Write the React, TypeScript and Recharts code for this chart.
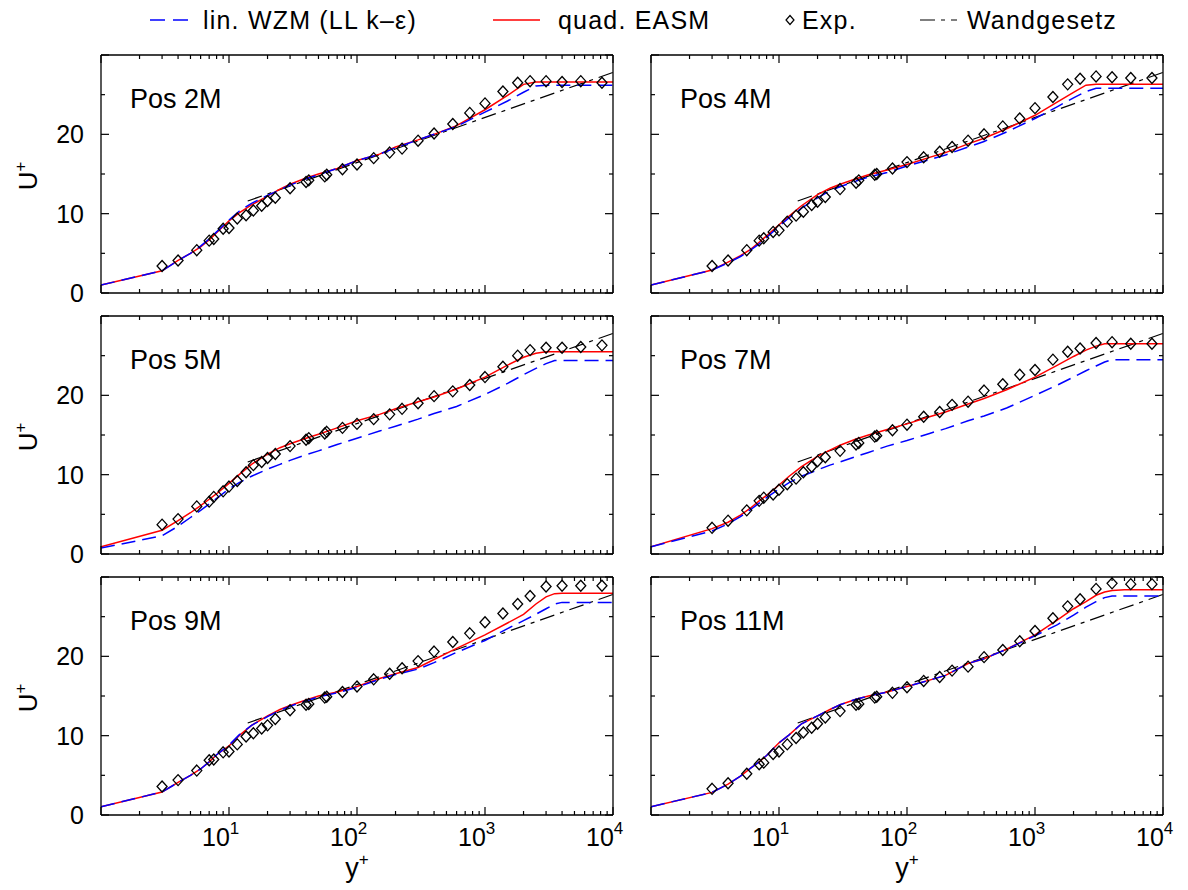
import React from 'react'
import { LineChart, Line, XAxis, YAxis } from 'recharts'

const FONT = '"Liberation Sans", Arial, Helvetica, sans-serif'

// y+ stations of the computed profiles
const MODEL_YP = [1, 3, 4, 5, 6, 7, 8, 10, 12, 15, 20, 25, 30, 40, 50, 70, 100, 150, 200, 300, 400, 600, 1000, 1500, 2000, 2500, 3000, 3500, 4000, 5000, 10000]
// y+ stations of the measurements
const EXP_YP = [3, 4, 5.6, 7, 7.6, 9, 10, 11.6, 13.6, 15.5, 18, 20, 23, 30, 40, 42, 56, 58, 77, 100, 135, 180, 225, 300, 400, 560, 760, 1000, 1380, 1800, 2250, 3000, 4000, 5600, 8200]
// log law
const WALL_YP = [14, 10000]
const WALL_U = [11.6, 27.8]

const POS2M_LIN = [1.0, 2.8, 4.1, 5.0, 5.9, 6.8, 7.7, 9.2, 10.3, 11.3, 12.3, 13.0, 13.6, 14.4, 14.9, 15.7, 16.7, 17.5, 18.3, 19.3, 20.0, 21.0, 22.8, 24.2, 25.3, 26.1, 26.2, 26.2, 26.2, 26.2, 26.2]
const POS2M_QUAD = [1.0, 2.8, 4.1, 5.0, 5.8, 6.7, 7.6, 9.1, 10.1, 11.1, 12.2, 13.1, 13.7, 14.5, 15.0, 15.7, 16.7, 17.5, 18.4, 19.3, 20.0, 21.1, 23.1, 24.9, 26.3, 26.6, 26.6, 26.6, 26.6, 26.6, 26.6]
const POS2M_EXP = [3.4, 4.1, 5.4, 6.6, 6.8, 8.1, 8.2, 9.4, 9.8, 10.4, 11.0, 11.6, 12.0, 13.2, 14.0, 14.2, 14.7, 14.9, 15.6, 16.2, 17.0, 17.7, 18.2, 19.2, 20.1, 21.3, 22.7, 23.9, 25.4, 26.5, 26.7, 26.7, 26.6, 26.7, 26.5]

const POS4M_LIN = [1.0, 2.9, 3.8, 4.6, 5.4, 6.2, 7.0, 8.4, 9.5, 10.7, 12.0, 12.9, 13.4, 14.1, 14.6, 15.2, 16.0, 16.8, 17.4, 18.4, 19.1, 20.3, 22.0, 23.5, 24.6, 25.4, 25.8, 25.8, 25.8, 25.8, 25.8]
const POS4M_QUAD = [1.0, 2.9, 3.9, 4.7, 5.5, 6.4, 7.2, 8.6, 9.7, 11.0, 12.4, 13.2, 13.7, 14.4, 14.9, 15.5, 16.2, 17.1, 17.7, 18.8, 19.5, 20.7, 22.4, 24.1, 25.3, 26.2, 26.3, 26.3, 26.3, 26.3, 26.3]
const POS4M_EXP = [3.4, 4.1, 5.4, 6.6, 6.9, 7.7, 7.9, 9.0, 9.75, 10.25, 11.1, 11.5, 12.1, 13.1, 13.9, 14.2, 14.9, 15.0, 15.7, 16.5, 17.1, 17.8, 18.4, 19.2, 20.0, 21.0, 22.0, 23.3, 24.7, 26.3, 27.0, 27.3, 27.2, 27.1, 27.1]

const POS5M_LIN = [0.75, 2.3, 3.5, 4.6, 5.5, 6.3, 7.0, 8.2, 9.0, 9.8, 10.7, 11.3, 11.8, 12.5, 13.0, 13.8, 14.6, 15.5, 16.1, 17.0, 17.7, 18.6, 20.1, 21.5, 22.6, 23.4, 24.0, 24.4, 24.4, 24.4, 24.4]
const POS5M_QUAD = [0.9, 3.0, 4.2, 5.2, 6.1, 6.9, 7.6, 8.9, 10.0, 11.3, 12.6, 13.4, 13.9, 14.6, 15.1, 15.9, 16.8, 17.6, 18.3, 19.2, 19.8, 20.8, 22.3, 23.8, 24.8, 25.3, 25.5, 25.5, 25.5, 25.5, 25.5]
const POS5M_EXP = [3.7, 4.4, 6.0, 6.6, 7.2, 7.9, 8.5, 9.2, 10.3, 11.2, 11.6, 12.1, 12.6, 13.6, 14.4, 14.6, 15.2, 15.4, 15.9, 16.4, 17.0, 17.6, 18.3, 19.0, 19.9, 20.5, 21.3, 22.3, 23.6, 25.0, 25.7, 26.0, 26.0, 26.1, 26.3]

const POS7M_LIN = [0.9, 2.9, 3.8, 4.7, 5.6, 6.4, 7.1, 8.2, 9.0, 9.8, 10.6, 11.2, 11.6, 12.3, 12.8, 13.6, 14.3, 15.2, 15.8, 16.8, 17.4, 18.4, 20.0, 21.3, 22.3, 23.1, 23.7, 24.2, 24.5, 24.5, 24.5]
const POS7M_QUAD = [0.9, 3.2, 4.0, 4.9, 5.8, 6.7, 7.4, 8.7, 9.8, 11.0, 12.3, 13.1, 13.7, 14.5, 15.0, 15.7, 16.4, 17.3, 17.9, 18.9, 19.6, 20.7, 22.3, 23.8, 24.9, 25.7, 26.2, 26.5, 26.5, 26.5, 26.5]
const POS7M_EXP = [3.3, 4.2, 5.5, 6.7, 7.1, 7.5, 8.1, 8.8, 9.5, 10.3, 11.0, 11.7, 12.2, 13.0, 13.8, 14.0, 14.8, 14.9, 15.6, 16.3, 17.3, 17.9, 18.8, 19.2, 20.6, 21.4, 22.6, 23.2, 24.5, 25.5, 25.9, 26.6, 26.7, 26.5, 26.5]

const POS9M_LIN = [1.05, 2.9, 4.1, 5.0, 5.8, 6.7, 7.6, 8.8, 10.1, 11.3, 12.4, 13.2, 13.7, 14.4, 14.9, 15.4, 16.1, 17.1, 17.7, 18.4, 19.2, 20.5, 22.0, 23.5, 24.5, 25.3, 26.0, 26.6, 26.8, 26.8, 26.8]
const POS9M_QUAD = [1.05, 2.9, 4.1, 5.0, 5.8, 6.7, 7.6, 8.7, 10.0, 11.3, 12.5, 13.3, 13.8, 14.5, 15.0, 15.5, 16.2, 17.2, 17.8, 18.6, 19.6, 21.0, 22.7, 24.2, 25.3, 26.6, 27.5, 27.9, 27.95, 27.95, 27.95]
const POS9M_EXP = [3.6, 4.4, 5.6, 6.9, 7.0, 7.9, 8.0, 8.9, 9.9, 10.3, 10.9, 11.3, 12.1, 13.2, 13.9, 14.0, 14.8, 14.9, 15.5, 16.2, 17.1, 17.8, 18.5, 19.4, 20.6, 21.8, 22.9, 24.3, 25.4, 26.6, 27.6, 28.8, 28.9, 28.9, 28.9]

const POS11M_LIN = [1.05, 2.85, 3.9, 4.9, 5.9, 6.7, 7.5, 9.1, 10.1, 11.5, 12.5, 13.3, 13.9, 14.6, 15.0, 15.5, 16.2, 17.0, 17.6, 19.1, 19.7, 20.9, 22.6, 24.0, 25.2, 26.2, 26.9, 27.4, 27.6, 27.6, 27.6]
const POS11M_QUAD = [1.05, 2.85, 3.9, 4.9, 5.9, 6.7, 7.5, 9.1, 10.1, 11.5, 12.5, 13.3, 13.9, 14.6, 15.0, 15.5, 16.2, 17.0, 17.6, 19.1, 19.7, 20.9, 22.7, 24.6, 26.0, 26.9, 27.7, 28.1, 28.3, 28.4, 28.4]
const POS11M_EXP = [3.3, 4.0, 5.2, 6.4, 6.6, 7.7, 8.0, 8.9, 9.7, 10.4, 11.0, 11.5, 12.3, 13.1, 13.9, 14.0, 14.8, 14.9, 15.4, 16.1, 16.9, 17.4, 18.2, 18.7, 19.9, 20.8, 21.9, 23.2, 24.8, 26.3, 27.2, 28.5, 29.2, 29.1, 29.1]

const PANEL_NAMES = ['Pos 2M', 'Pos 4M', 'Pos 5M', 'Pos 7M', 'Pos 9M', 'Pos 11M']
const LEGEND_LABELS = ['lin. WZM (LL k\u2013\u03b5)', 'quad. EASM', 'Exp.', 'Wandgesetz']

const X_MAJOR = [1, 10, 100, 1000, 10000]
const X_TICKS = X_MAJOR.flatMap((d, i) => (i < X_MAJOR.length - 1 ? [1, 2, 3, 4, 5, 6, 7, 8, 9].map((m) => d * m) : [d]))
const Y_TICKS = [0, 5, 10, 15, 20, 25, 30]

const toPoints = (xs: number[], us: number[]) => xs.map((yp, i) => ({ yp, u: us[i] }))

const panels = [
  { lin: POS2M_LIN, quad: POS2M_QUAD, exp: POS2M_EXP },
  { lin: POS4M_LIN, quad: POS4M_QUAD, exp: POS4M_EXP },
  { lin: POS5M_LIN, quad: POS5M_QUAD, exp: POS5M_EXP },
  { lin: POS7M_LIN, quad: POS7M_QUAD, exp: POS7M_EXP },
  { lin: POS9M_LIN, quad: POS9M_QUAD, exp: POS9M_EXP },
  { lin: POS11M_LIN, quad: POS11M_QUAD, exp: POS11M_EXP },
].map((p, i) => ({
  name: PANEL_NAMES[i],
  lin: toPoints(MODEL_YP, p.lin),
  quad: toPoints(MODEL_YP, p.quad),
  exp: toPoints(EXP_YP, p.exp),
}))
const wall = toPoints(WALL_YP, WALL_U)

// layout
const PLOT_W = 512
const PLOT_H = 238
const ROW_TOP = [55, 316, 577]
const COLS = [
  { left: 0, width: 630, ml: 100, mr: 16 },
  { left: 630, width: 558, ml: 20, mr: 24 },
]

const XTick = (props: any) => {
  const { x, y, payload, side, showLabel } = props
  const v = payload.value
  const major = X_MAJOR.includes(v)
  const len = major ? 8 : 4
  const dir = side === 'bottom' ? -1 : 1
  const power = Math.round(Math.log10(v))
  return (
    <g>
      <line x1={x} x2={x} y1={y} y2={y + dir * len} stroke="#000" strokeWidth={1.2} />
      {showLabel && major && power > 0 && (
        <text x={x - 27} y={y + 31} fontSize={25} fontFamily={FONT} fill="#000">
          10<tspan dy={-12} fontSize={17}>{power}</tspan>
        </text>
      )}
    </g>
  )
}

const YTick = (props: any) => {
  const { x, y, payload, side, showLabel } = props
  const v = payload.value
  const major = v % 10 === 0
  const len = major ? 8 : 4
  const dir = side === 'left' ? 1 : -1
  return (
    <g>
      <line x1={x} x2={x + dir * len} y1={y} y2={y} stroke="#000" strokeWidth={1.2} />
      {showLabel && major && v < 30 && (
        <text x={x - 17} y={y + 9} textAnchor="end" fontSize={25} fontFamily={FONT} fill="#000">
          {v}
        </text>
      )}
    </g>
  )
}

const PanelTitle = ({ px, py, panelName }: any) => (
  <text x={px} y={py} fontSize={27} fontFamily={FONT} fill="#000">
    {panelName}
  </text>
)

const UTitle = ({ px, py }: any) => (
  <text x={px} y={py} transform={`rotate(-90 ${px} ${py})`} textAnchor="middle" fontSize={26} fontFamily={FONT} fill="#000">
    U<tspan dy={-11} fontSize={17}>+</tspan>
  </text>
)

const YpTitle = ({ px, py }: any) => (
  <text x={px} y={py} textAnchor="middle" fontSize={27} fontFamily={FONT} fill="#000">
    y<tspan dy={-12} fontSize={17}>+</tspan>
  </text>
)

const Diamond = (props: any) => {
  const { cx, cy } = props
  if (cx == null || cy == null) return null
  return <polygon points={`${cx},${cy - 5.5} ${cx + 5},${cy} ${cx},${cy + 5.5} ${cx - 5},${cy}`} fill="none" stroke="#000" strokeWidth={1.3} />
}

const frame = { stroke: '#000', strokeWidth: 1.3 }

const Panel = ({ index }: { index: number }) => {
  const panel = panels[index]
  const row = Math.floor(index / 2)
  const col = index % 2
  const c = COLS[col]
  const last = row === 2
  const mb = last ? 74 : 20
  const height = 11 + PLOT_H + 1 + mb
  const plotLeft = c.ml + 1
  return (
    <div style={{ position: 'absolute', left: c.left, top: ROW_TOP[row] - 11 }}>
      <LineChart width={c.width} height={height} margin={{ top: 10, right: c.mr, bottom: mb, left: c.ml }}>
        <XAxis
          xAxisId="b"
          dataKey="yp"
          type="number"
          scale="log"
          domain={[1, 10000]}
          allowDataOverflow
          ticks={X_TICKS}
          interval={0}
          height={1}
          tickSize={0}
          tickMargin={0}
          tickLine={false}
          axisLine={frame}
          tick={(p: any) => <XTick {...p} side="bottom" showLabel={last} />}
          label={last ? <YpTitle px={plotLeft + PLOT_W / 2} py={11 + PLOT_H + 62} /> : undefined}
        />
        <XAxis
          xAxisId="t"
          orientation="top"
          dataKey="yp"
          type="number"
          scale="log"
          domain={[1, 10000]}
          allowDataOverflow
          ticks={X_TICKS}
          interval={0}
          height={1}
          tickSize={0}
          tickMargin={0}
          tickLine={false}
          axisLine={frame}
          tick={(p: any) => <XTick {...p} side="top" />}
          label={<PanelTitle px={plotLeft + 29} py={11 + 53} panelName={panel.name} />}
        />
        <YAxis
          yAxisId="l"
          type="number"
          domain={[0, 30]}
          allowDataOverflow
          ticks={Y_TICKS}
          interval={0}
          width={1}
          tickSize={0}
          tickMargin={0}
          tickLine={false}
          axisLine={frame}
          tick={(p: any) => <YTick {...p} side="left" showLabel={col === 0} />}
          label={col === 0 ? <UTitle px={37} py={11 + PLOT_H / 2 + 2} /> : undefined}
        />
        <YAxis
          yAxisId="r"
          orientation="right"
          type="number"
          domain={[0, 30]}
          allowDataOverflow
          ticks={Y_TICKS}
          interval={0}
          width={1}
          tickSize={0}
          tickMargin={0}
          tickLine={false}
          axisLine={frame}
          tick={(p: any) => <YTick {...p} side="right" />}
        />
        <Line xAxisId="b" yAxisId="l" data={wall} dataKey="u" stroke="#000" strokeWidth={1.2} strokeDasharray="15 6 4 6" dot={false} isAnimationActive={false} />
        <Line xAxisId="b" yAxisId="l" data={panel.exp} dataKey="u" stroke="none" dot={<Diamond />} activeDot={false} isAnimationActive={false} />
        <Line xAxisId="b" yAxisId="l" data={panel.quad} dataKey="u" stroke="#ff0000" strokeWidth={1.5} dot={false} isAnimationActive={false} />
        <Line xAxisId="b" yAxisId="l" data={panel.lin} dataKey="u" stroke="#0000ff" strokeWidth={1.5} strokeDasharray="14 7" dot={false} isAnimationActive={false} />
      </LineChart>
    </div>
  )
}

const Legend = () => (
  <svg width={1188} height={45} style={{ position: 'absolute', left: 0, top: 0 }}>
    <g fontSize={25} fontFamily={FONT} fill="#000" letterSpacing={1.2}>
      <line x1={150} x2={188} y1={20} y2={20} stroke="#0000ff" strokeWidth={1.5} strokeDasharray="15 8" />
      <text x={203} y={29}>{LEGEND_LABELS[0]}</text>
      <line x1={493} x2={540} y1={20} y2={20} stroke="#ff0000" strokeWidth={1.5} />
      <text x={558} y={29}>{LEGEND_LABELS[1]}</text>
      <polygon points="790,15.5 794,20 790,24.5 786,20" fill="none" stroke="#000" strokeWidth={1.2} />
      <text x={802} y={29}>{LEGEND_LABELS[2]}</text>
      <line x1={920} x2={957} y1={20} y2={20} stroke="#000" strokeWidth={1.2} strokeDasharray="15 6 4 6" />
      <text x={967} y={29}>{LEGEND_LABELS[3]}</text>
    </g>
  </svg>
)

export default function App() {
  return (
    <div style={{ position: 'absolute', left: 0, top: 0, width: 1188, height: 890, background: '#fff', overflow: 'hidden' }}>
      <Legend />
      {panels.map((_, i) => (
        <Panel key={i} index={i} />
      ))}
    </div>
  )
}
